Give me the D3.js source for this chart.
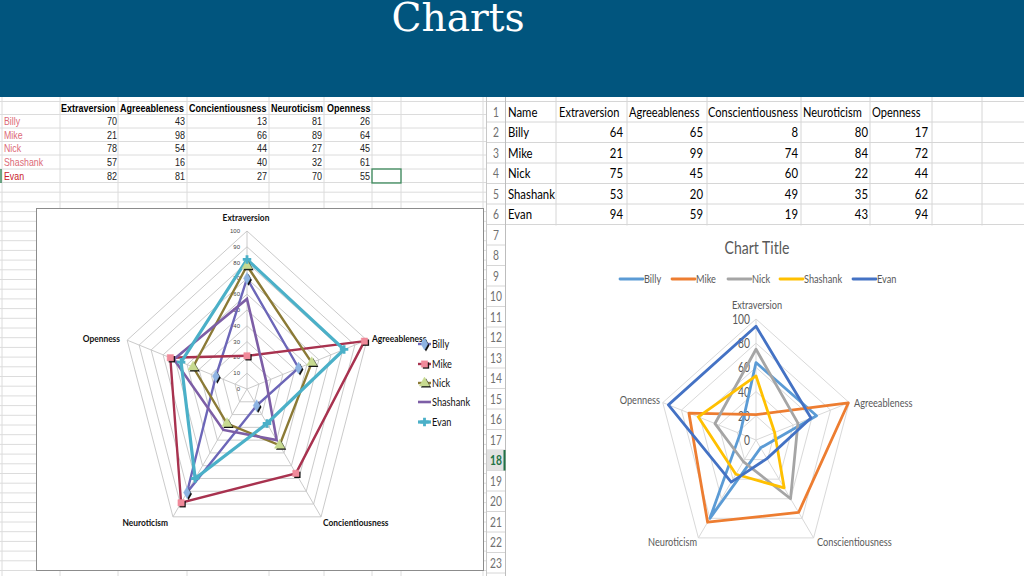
<!DOCTYPE html>
<html><head><meta charset="utf-8">
<script src="https://cdn.jsdelivr.net/npm/d3@7"></script>
<style>html,body{margin:0;padding:0;background:#fff;overflow:hidden}</style>
</head><body>
<svg id="c" width="1024" height="576"></svg>
<script>
// ---------------- DATA ----------------
const seriesNames = ["Billy", "Mike", "Nick", "Shashank", "Evan"];
const leftCategories = ["Extraversion", "Agreeableness", "Concientiousness", "Neuroticism", "Openness"];
const leftBilly = [70, 43, 13, 81, 26];
const leftMike = [21, 98, 66, 89, 64];
const leftNick = [78, 54, 44, 27, 45];
const leftShashank = [57, 16, 40, 32, 61];
const leftEvan = [82, 81, 27, 70, 55];
const leftTicks = [0, 10, 20, 30, 40, 50, 60, 70, 80, 90, 100];

const rightCategories = ["Extraversion", "Agreeableness", "Conscientiousness", "Neuroticism", "Openness"];
const rightBilly = [64, 65, 8, 80, 17];
const rightMike = [21, 99, 74, 84, 72];
const rightNick = [75, 45, 60, 22, 44];
const rightShashank = [53, 20, 49, 35, 62];
const rightEvan = [94, 59, 19, 43, 94];
const rightTicks = [0, 20, 40, 60, 80, 100];
const rightRowNumbers = [1, 2, 3, 4, 5, 6, 7, 8, 9, 10, 11, 12, 13, 14, 15, 16, 17, 18, 19, 20, 21, 22, 23];
const selectedRow = 18;
const slideTitle = "Charts";
const rightChartTitle = "Chart Title";

const leftSeries = [leftBilly, leftMike, leftNick, leftShashank, leftEvan];
const rightSeries = [rightBilly, rightMike, rightNick, rightShashank, rightEvan];

// ---------------- HELPERS ----------------
const svg = d3.select("#c");
function T(p, x, y, s, o = {}) {
  return p.append("text")
    .attr("transform", `translate(${x},${y}) scale(${o.sx || 1},1)`)
    .attr("text-anchor", o.anchor || "start")
    .attr("dominant-baseline", o.base || "central")
    .style("font-family", o.family || "Lato")
    .style("font-size", (o.size || 12) + "px")
    .style("font-weight", o.weight || "normal")
    .attr("fill", o.fill || "#000")
    .text(s);
}
function hline(p, x1, x2, y, c, w = 1) {
  p.append("line").attr("x1", x1).attr("x2", x2).attr("y1", y).attr("y2", y).attr("stroke", c).attr("stroke-width", w);
}
function vline(p, x, y1, y2, c, w = 1) {
  p.append("line").attr("x1", x).attr("x2", x).attr("y1", y1).attr("y2", y2).attr("stroke", c).attr("stroke-width", w);
}

svg.append("rect").attr("width", 1024).attr("height", 576).attr("fill", "#fff");

// ---------------- LEFT SPREADSHEET ----------------
const L = svg.append("g");
const lgrid = "#dcdcdc";
const leftColEdges = [2, 60, 118, 187, 269, 324, 372, 401, 483];
const leftRowEdges = [101.5, 114.5, 128, 141.5, 155, 169, 182.5];
for (let y = 182.5 + 9.7; y < 576; y += 9.7) leftRowEdges.push(y);
leftRowEdges.forEach(y => hline(L, 0, 486, y, lgrid));
leftColEdges.forEach(x => vline(L, x, 97, 576, lgrid));

const lHeadY = 108, lRowY = [121.5, 135, 148.5, 162, 176];
const lColRight = [117, 185, 267, 322, 370];
const lHeadX = [61, 120, 189, 271, 327];
leftCategories.forEach((c, i) => T(L, lHeadX[i], lHeadY, c, {family: "Liberation Sans", size: 10, weight: "bold", sx: 0.9}));
seriesNames.forEach((n, r) => {
  T(L, 4, lRowY[r], n, {family: "Liberation Sans", size: 10, sx: 0.88, fill: r === 4 ? "#c8202a" : "#dc6a78"});
  leftSeries[r].forEach((v, i) => T(L, lColRight[i], lRowY[r], v, {family: "Liberation Sans", size: 10, sx: 0.9, anchor: "end", fill: "#222"}));
});
L.append("rect").attr("x", 372).attr("y", 169).attr("width", 29).attr("height", 14).attr("fill", "none").attr("stroke", "#3d8a5c").attr("stroke-width", 1.3);
vline(L, 1, 169, 183, "#3d8a5c", 1.5);

// left chart box
L.append("rect").attr("x", 36.5).attr("y", 208.5).attr("width", 447).attr("height", 362).attr("fill", "#fff").attr("stroke", "#8c8c8c");

function radarPoint(cx, cy, rx, ry, r, i, n) {
  const a = 2 * Math.PI * i / n;
  return [cx + rx * r * Math.sin(a), cy - ry * r * Math.cos(a)];
}

// left radar
(function () {
  const cx = 247, cy = 389, ry = 158, rx = 126;
  const n = leftCategories.length;
  const rs = d3.scaleLinear().domain([0, 100]).range([0, 1]);
  const g = L.append("g");
  const ring = d3.line().curve(d3.curveLinearClosed);
  leftTicks.forEach(t => {
    if (t === 0) return;
    g.append("path").attr("d", ring(d3.range(n).map(i => radarPoint(cx, cy, rx, ry, rs(t), i, n))))
      .attr("fill", "none").attr("stroke", "#c4c4c4").attr("stroke-width", 0.9);
  });
  d3.range(n).forEach(i => {
    const p = radarPoint(cx, cy, rx, ry, 1, i, n);
    g.append("line").attr("x1", cx).attr("y1", cy).attr("x2", p[0]).attr("y2", p[1]).attr("stroke", "#c4c4c4").attr("stroke-width", 0.9);
  });
  leftTicks.forEach(t => T(g, cx - 7, cy - ry * rs(t), t, {size: 6, family: "Liberation Sans", anchor: "end", fill: "#444"}));
  // axis labels
  const lab = [[246, 217, "middle"], [372, 338, "start"], [323, 522, "start"], [168, 522, "end"], [120, 338, "end"]];
  leftCategories.forEach((c, i) => T(g, lab[i][0], lab[i][1], c, {size: 10, weight: "bold", sx: 0.84, anchor: lab[i][2], fill: "#111"}));

  const lineCol = ["#6c66b8", "#a8324f", "#8b7a36", "#7d5ea6", "#4bb0c8"];
  const fillCol = ["#8db3e2", "#f08a9a", "#c7da90", "#8f75b5", "#4bb0c8"];
  const widths = [2.4, 2.4, 2.4, 2.6, 3.2];
  const sym = [d3.symbolDiamond, d3.symbolSquare, d3.symbolTriangle, d3.symbolX, d3.symbolAsterisk];
  function marker(p, x, y, k) {
    if (k < 3) {
      p.append("path").attr("d", d3.symbol().type(sym[k]).size(k === 2 ? 45 : 40)()).attr("transform", `translate(${x + 1.5},${y + 1.5})`).attr("fill", "#111");
      p.append("path").attr("d", d3.symbol().type(sym[k]).size(k === 2 ? 45 : 40)()).attr("transform", `translate(${x},${y})`).attr("fill", fillCol[k]).attr("stroke", fillCol[k]).attr("stroke-width", 0.5);
    } else {
      p.append("path").attr("d", d3.symbol().type(k === 3 ? d3.symbolX : d3.symbolCross).size(40)()).attr("transform", `translate(${x},${y})`).attr("fill", fillCol[k]);
    }
  }
  leftSeries.forEach((vals, k) => {
    const pts = vals.map((v, i) => radarPoint(cx, cy, rx, ry, rs(v), i, n));
    g.append("path").attr("d", ring(pts)).attr("fill", "none").attr("stroke", lineCol[k]).attr("stroke-width", widths[k]).attr("stroke-linejoin", "miter");
  });
  leftSeries.forEach((vals, k) => {
    vals.forEach((v, i) => { const p = radarPoint(cx, cy, rx, ry, rs(v), i, n); marker(g, p[0], p[1], k); });
  });
  // legend
  const ly = [344, 364, 383, 402, 422];
  seriesNames.forEach((s, k) => {
    g.append("line").attr("x1", 418).attr("x2", 431).attr("y1", ly[k]).attr("y2", ly[k]).attr("stroke", lineCol[k]).attr("stroke-width", widths[k]);
    marker(g, 424.5, ly[k], k);
    T(g, 432, ly[k], s, {size: 11.5, sx: 0.8, fill: "#111"});
  });
})();

// ---------------- RIGHT SPREADSHEET ----------------
const R = svg.append("g");
R.append("rect").attr("x", 486).attr("y", 97).attr("width", 538).attr("height", 479).attr("fill", "#fff");
const rgrid = "#d6d6d6";
const rowH = 20.5, rowTop = 101.5;
for (let k = 0; k <= 24; k++) hline(R, 486, 1024, rowTop + k * rowH, rgrid);
const rColEdges = [505.5, 556, 627, 707, 801, 870, 932, 982];
rColEdges.forEach(x => vline(R, x, 97, 576, x === 505.5 ? "#bdbdbd" : rgrid));
vline(R, 486.5, 97, 576, "#c8c8c8");
// selected row header
const selY = rowTop + (selectedRow - 1) * rowH;
R.append("rect").attr("x", 487).attr("y", selY).attr("width", 18).attr("height", rowH).attr("fill", "#e2e2e2");
vline(R, 504.5, selY, selY + rowH, "#217346", 2);
rightRowNumbers.forEach((r, k) => T(R, 496, rowTop + k * rowH + rowH / 2, r,
  {size: 12.5, sx: 0.82, anchor: "middle", fill: r === selectedRow ? "#217346" : "#707070", weight: r === selectedRow ? "bold" : "normal"}));

const rHeadX = [508, 559, 629, 708, 803, 872];
const rColRight = [623, 703, 798, 868, 928];
const rRowY = k => rowTop + k * rowH + rowH / 2;
T(R, rHeadX[0], rRowY(0), "Name", {size: 13.5, sx: 0.84});
rightCategories.forEach((c, i) => T(R, rHeadX[i + 1], rRowY(0), c, {size: 13.5, sx: 0.82}));
seriesNames.forEach((n, r) => {
  T(R, 508, rRowY(r + 1), n, {size: 13.5, sx: 0.84});
  rightSeries[r].forEach((v, i) => T(R, rColRight[i], rRowY(r + 1), v, {size: 13.5, sx: 0.84, anchor: "end"}));
});

// right chart
R.append("rect").attr("x", 506).attr("y", 225.5).attr("width", 518).attr("height", 351).attr("fill", "#fff");
(function () {
  const cx = 756, cy = 440, ry = 121, rx = 98;
  const n = rightCategories.length;
  const rs = d3.scaleLinear().domain([0, 100]).range([0, 1]);
  const g = R.append("g");
  const ring = d3.line().curve(d3.curveLinearClosed);
  rightTicks.forEach(t => {
    if (t === 0) return;
    g.append("path").attr("d", ring(d3.range(n).map(i => radarPoint(cx, cy, rx, ry, rs(t), i, n))))
      .attr("fill", "none").attr("stroke", "#d9d9d9").attr("stroke-width", 1);
  });
  d3.range(n).forEach(i => {
    const p = radarPoint(cx, cy, rx, ry, 1, i, n);
    g.append("line").attr("x1", cx).attr("y1", cy).attr("x2", p[0]).attr("y2", p[1]).attr("stroke", "#d9d9d9").attr("stroke-width", 1);
  });
  rightTicks.forEach(t => T(g, cx - 6, cy - ry * rs(t), t, {size: 12.5, sx: 0.82, anchor: "end", fill: "#595959"}));
  const lab = [[757, 305, "middle"], [854, 403, "start"], [817, 542, "start"], [697, 542, "end"], [660, 400, "end"]];
  rightCategories.forEach((c, i) => T(g, lab[i][0], lab[i][1], c, {size: 11.5, sx: 0.8, anchor: lab[i][2], fill: "#595959"}));
  const col = ["#5b9bd5", "#ed7d31", "#a5a5a5", "#ffc000", "#4472c4"];
  rightSeries.forEach((vals, k) => {
    const pts = vals.map((v, i) => radarPoint(cx, cy, rx, ry, rs(v), i, n));
    g.append("path").attr("d", ring(pts)).attr("fill", "none").attr("stroke", col[k]).attr("stroke-width", 2.8).attr("stroke-linejoin", "round");
  });
  T(g, 757, 247, rightChartTitle, {size: 18, sx: 0.78, anchor: "middle", fill: "#595959"});
  const lx = [620, 672, 728, 780, 853];
  seriesNames.forEach((s, k) => {
    g.append("line").attr("x1", lx[k]).attr("x2", lx[k] + 23).attr("y1", 279).attr("y2", 279).attr("stroke", col[k]).attr("stroke-width", 2.8).attr("stroke-linecap", "round");
    T(g, lx[k] + 24, 279, s, {size: 11.5, sx: 0.8, fill: "#595959"});
  });
})();

// ---------------- HEADER BAND ----------------
svg.append("rect").attr("x", 0).attr("y", 0).attr("width", 1024).attr("height", 97).attr("fill", "#01557e");
T(svg, 458, 31, slideTitle, {family: "DejaVu Serif", size: 40, anchor: "middle", fill: "#fff", base: "alphabetic", sx: 0.98});
</script>
</body></html>
